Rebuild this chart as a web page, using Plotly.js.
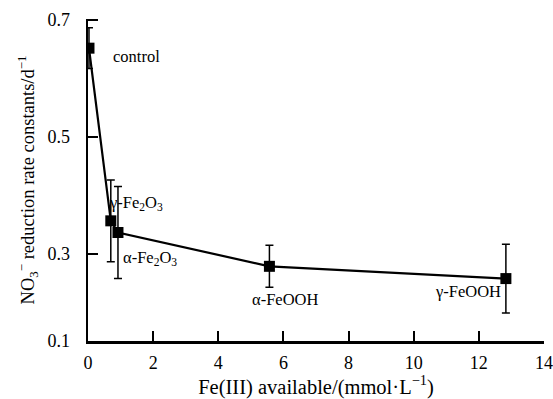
<!DOCTYPE html>
<html>
<head>
<meta charset="utf-8">
<script src="https://cdn.plot.ly/plotly-3.0.1.min.js"></script>
<style>
html,body{margin:0;padding:0;background:#fff;}
#chart{width:553px;height:399px;}
</style>
</head>
<body>
<div id="chart"></div>
<script>
var labels = ["control", "γ-Fe<sub>2</sub>O<sub>3</sub>", "α-Fe<sub>2</sub>O<sub>3</sub>", "α-FeOOH", "γ-FeOOH"];
var feAvailable = [0.03, 0.70, 0.92, 5.57, 12.83];
var rateConst = [0.652, 0.356, 0.336, 0.278, 0.257];
var rateErr = [0.035, 0.070, 0.079, 0.036, 0.059];
var yTickVals = [0.15, 0.3, 0.5, 0.7];
var yTickText = ["0.1", "0.3", "0.5", "0.7"];
var xTickVals = [0, 2, 4, 6, 8, 10, 12, 14];

var labelPos = [
  {x: 1.50, y: 0.637},
  {x: 1.46, y: 0.387},
  {x: 1.89, y: 0.293},
  {x: 6.05, y: 0.221},
  {x: 11.67, y: 0.235}
];

var fontFam = "Liberation Serif, Times New Roman, serif";

var trace = {
  x: feAvailable,
  y: rateConst,
  type: "scatter",
  mode: "lines+markers",
  line: {color: "#000", width: 2.2},
  marker: {symbol: "square", size: 11, color: "#000"},
  error_y: {type: "data", array: rateErr, visible: true, color: "#000", thickness: 1.5, width: 4},
  hoverinfo: "none"
};

var annotations = labels.map(function(t, i) {
  return {x: labelPos[i].x, y: labelPos[i].y, xref: "x", yref: "y", text: t, showarrow: false,
          font: {family: fontFam, size: 16.5, color: "#000"}};
});

var layout = {
  width: 553, height: 399,
  margin: {l: 88, r: 8.5, t: 18.5, b: 58, pad: 0},
  paper_bgcolor: "#fff", plot_bgcolor: "#fff",
  showlegend: false,
  font: {family: fontFam, color: "#000"},
  xaxis: {
    range: [0, 14], tickvals: xTickVals, ticktext: xTickVals.map(String),
    ticks: "inside", ticklen: 10, tickwidth: 2, tickcolor: "#000",
    showline: true, linewidth: 2.5, linecolor: "#000", zeroline: false, showgrid: false,
    tickfont: {family: fontFam, size: 18, color: "#000"},
    ticklabelstandoff: 4,
    title: {text: "Fe(III) available/(mmol·L<sup>−1</sup>)", font: {family: fontFam, size: 20.5, color: "#000"}, standoff: 0}
  },
  yaxis: {
    range: [0.15, 0.702], tickvals: yTickVals, ticktext: yTickText,
    ticks: "inside", ticklen: 10, tickwidth: 2, tickcolor: "#000",
    showline: true, linewidth: 2.5, linecolor: "#000", zeroline: false, showgrid: false,
    tickfont: {family: fontFam, size: 18, color: "#000"},
    ticklabelstandoff: 12,
    title: {text: "NO<sub>3</sub><sup>−</sup> reduction rate constants/d<sup>−1</sup>", font: {family: fontFam, size: 18.5, color: "#000"}, standoff: 8}
  },
  annotations: annotations
};

Plotly.newPlot("chart", [trace], layout, {staticPlot: true, displayModeBar: false});
</script>
</body>
</html>
